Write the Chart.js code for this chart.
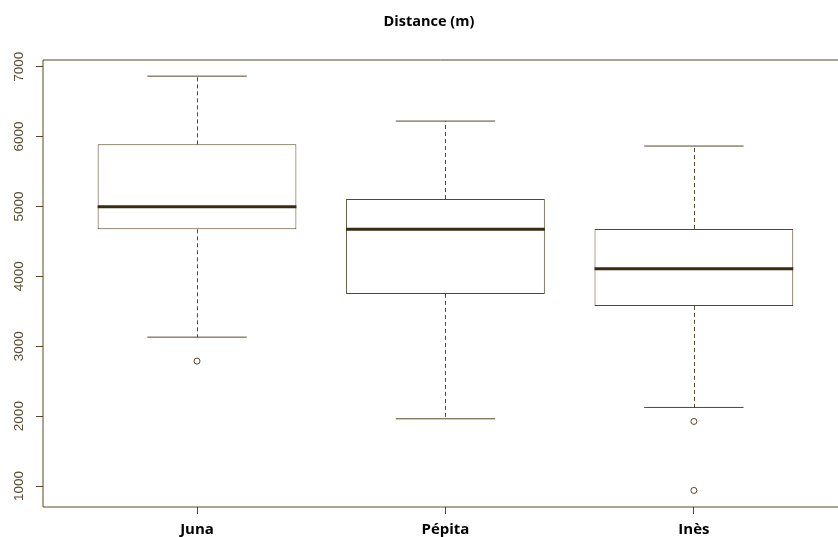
<!DOCTYPE html>
<html>
<head>
<meta charset="utf-8">
<title>Distance (m)</title>
<script src="https://cdn.jsdelivr.net/npm/chart.js@4.4.1/dist/chart.umd.min.js"></script>
<style>
  html, body { margin: 0; padding: 0; background: #fff; overflow: hidden; }
  #wrap { width: 838px; height: 537px; position: relative; }
</style>
</head>
<body>
<div id="wrap"><canvas id="boxChart"></canvas></div>
<script>
// values
const categories = ['Juna', 'Pépita', 'Inès'];
const whiskerLow = [3130, 1962, 2124];
const q1 = [4673, 3749, 3577];
const median = [4996, 4673, 4110];
const q3 = [5888, 5106, 4678];
const whiskerHigh = [6864, 6221, 5864];
const outlierGroup = [1, 3, 3];
const outlierValue = [2787, 1924, 937];
const yTicks = [1000, 2000, 3000, 4000, 5000, 6000, 7000];

const ink = '#574628';
const inkDark = '#3a2a10';

// whiskers, caps and medians, placed with the chart's own scales
const boxExtras = {
    id: 'boxExtras',
    beforeDatasetsDraw(chart) {
        const { ctx, scales: { x, y } } = chart;
        ctx.save();
        ctx.strokeStyle = ink;
        ctx.lineWidth = 1;
        categories.forEach((c, i) => {
            const cx = Math.round(x.getPixelForValue(i + 1)) + 0.5;
            const capL = x.getPixelForValue(i + 1 - 0.2);
            const capR = x.getPixelForValue(i + 1 + 0.2);
            ctx.setLineDash([4, 3]);
            ctx.beginPath();
            ctx.moveTo(cx, y.getPixelForValue(q3[i]));
            ctx.lineTo(cx, y.getPixelForValue(whiskerHigh[i]));
            ctx.moveTo(cx, y.getPixelForValue(q1[i]));
            ctx.lineTo(cx, y.getPixelForValue(whiskerLow[i]));
            ctx.stroke();
            ctx.setLineDash([]);
            ctx.beginPath();
            ctx.moveTo(capL, y.getPixelForValue(whiskerHigh[i]));
            ctx.lineTo(capR, y.getPixelForValue(whiskerHigh[i]));
            ctx.moveTo(capL, y.getPixelForValue(whiskerLow[i]));
            ctx.lineTo(capR, y.getPixelForValue(whiskerLow[i]));
            ctx.stroke();
        });
        ctx.restore();
    },
    afterDatasetsDraw(chart) {
        const { ctx, scales: { x, y } } = chart;
        ctx.save();
        ctx.strokeStyle = inkDark;
        ctx.lineWidth = 3;
        categories.forEach((c, i) => {
            const yy = y.getPixelForValue(median[i]);
            ctx.beginPath();
            ctx.moveTo(x.getPixelForValue(i + 1 - 0.4), yy);
            ctx.lineTo(x.getPixelForValue(i + 1 + 0.4), yy);
            ctx.stroke();
        });
        ctx.restore();
    },
    afterDraw(chart) {
        const { ctx, chartArea: a, scales: { y } } = chart;
        ctx.save();
        // frame: top, left, bottom (right side falls outside the canvas)
        ctx.strokeStyle = ink;
        ctx.lineWidth = 1;
        ctx.beginPath();
        ctx.moveTo(a.left, a.top);
        ctx.lineTo(chart.width, a.top);
        ctx.moveTo(a.left, a.top);
        ctx.lineTo(a.left, a.bottom);
        ctx.lineTo(chart.width, a.bottom);
        ctx.stroke();
        // rotated y labels, like R's default axis
        ctx.fillStyle = '#5a4a30';
        ctx.font = '13.5px "Liberation Sans", Arial, sans-serif';
        ctx.textAlign = 'center';
        ctx.textBaseline = 'middle';
        yTicks.forEach(v => {
            ctx.save();
            ctx.translate(19, y.getPixelForValue(v));
            ctx.rotate(-Math.PI / 2);
            ctx.fillText(String(v), 0, 0);
            ctx.restore();
        });
        ctx.restore();
    }
};

const ctx = document.getElementById('boxChart').getContext('2d');
new Chart(ctx, {
    type: 'bar',
    data: {
        datasets: [
            {
                type: 'bar',
                label: 'box',
                data: categories.map((c, i) => ({ x: i + 1, y: [q1[i], q3[i]] })),
                backgroundColor: '#ffffff',
                borderColor: ink,
                borderWidth: 1,
                borderSkipped: false,
                barPercentage: 0.8,
                categoryPercentage: 1
            },
            {
                type: 'scatter',
                label: 'outliers',
                data: outlierGroup.map((g, i) => ({ x: g, y: outlierValue[i] })),
                pointRadius: 3,
                pointBorderWidth: 1,
                pointBorderColor: ink,
                pointBackgroundColor: 'rgba(0,0,0,0)',
                showLine: false
            }
        ]
    },
    options: {
        responsive: true,
        maintainAspectRatio: false,
        animation: false,
        layout: { padding: { left: 20, top: 0, right: 0, bottom: 0 } },
        plugins: {
            legend: { display: false },
            tooltip: { enabled: false },
            title: {
                display: true,
                text: 'Distance (m)',
                color: '#000',
                font: { family: '"Open Sans", sans-serif', size: 14.5, weight: 'bold', lineHeight: 1.2 },
                padding: { top: 13, bottom: 29.6 }
            }
        },
        scales: {
            x: {
                type: 'linear',
                min: 0.38,
                max: 3.56,
                offset: false,
                afterBuildTicks: scale => { scale.ticks = categories.map((c, i) => ({ value: i + 1 })); },
                afterFit: scale => {
                    scale.height = 30;
                    scale.paddingLeft = 0;
                    scale.paddingRight = 0;
                },
                grid: { offset: false, drawOnChartArea: false, drawTicks: true, tickLength: 7, color: ink },
                border: { display: false },
                ticks: {
                    color: '#000',
                    padding: 7,
                    maxRotation: 0,
                    autoSkip: false,
                    font: { family: '"Open Sans", sans-serif', size: 15, weight: 'bold' },
                    callback: v => categories[v - 1]
                }
            },
            y: {
                min: 700,
                max: 7095,
                afterBuildTicks: scale => { scale.ticks = yTicks.map(v => ({ value: v })); },
                afterFit: scale => { scale.width = 23; },
                grid: { drawOnChartArea: false, drawTicks: true, tickLength: 7, color: ink },
                border: { display: false },
                ticks: { display: false }
            }
        }
    },
    plugins: [boxExtras]
});
</script>
</body>
</html>
